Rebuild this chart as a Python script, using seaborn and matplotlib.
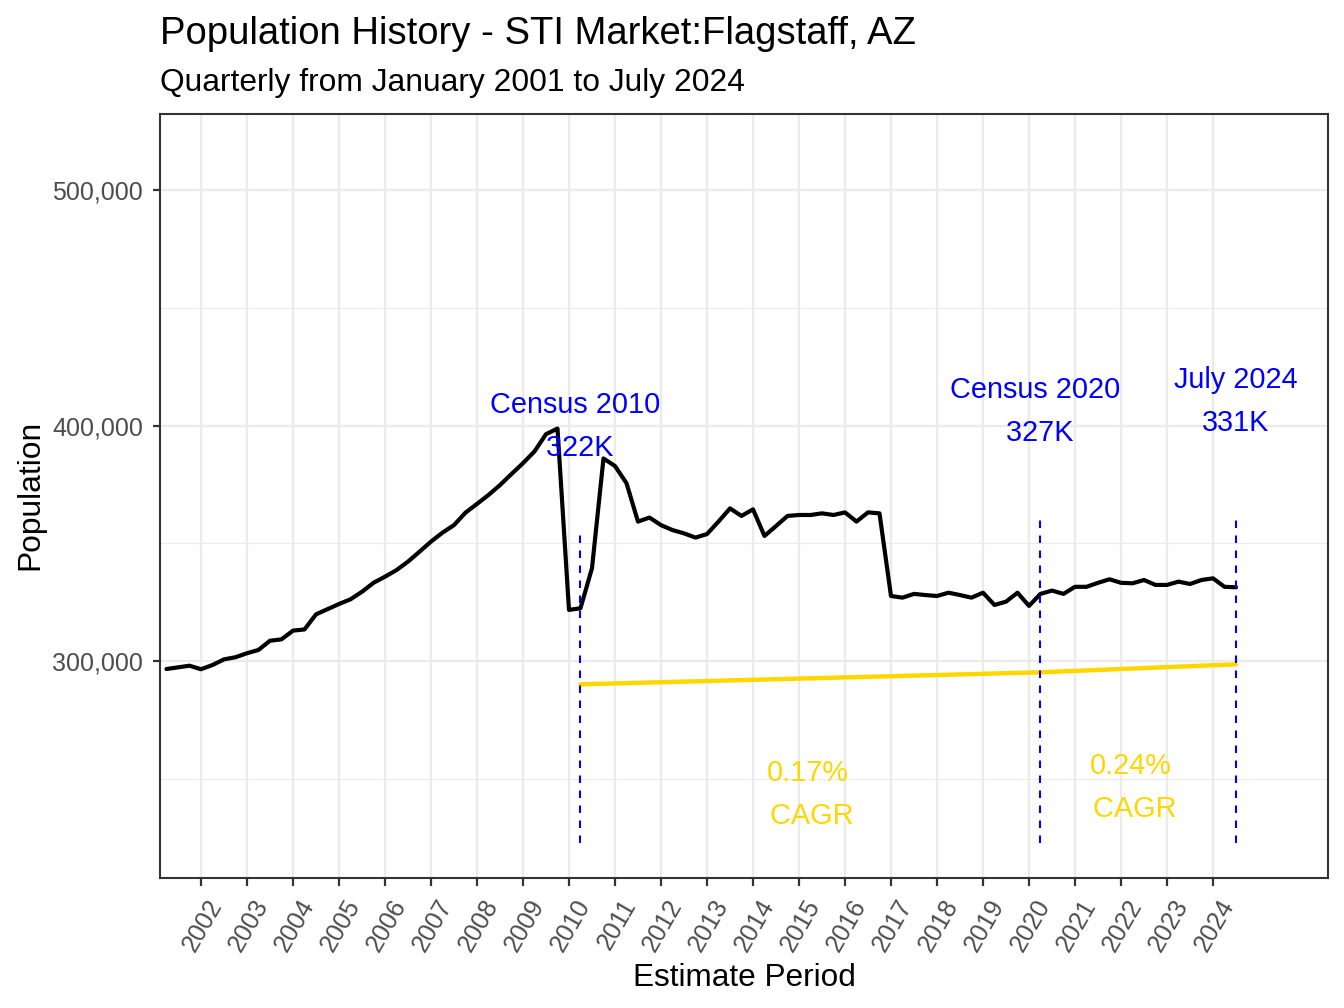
import matplotlib
matplotlib.use("Agg")
import matplotlib.pyplot as plt
import matplotlib.transforms as mtransforms
from matplotlib.ticker import FixedLocator, MultipleLocator, FuncFormatter
import seaborn as sns
import pandas as pd

# ---------------- data ----------------
# quarterly estimates (decimal year of each quarter start), April 2001 .. July 2024
population = [
    296600, 297300, 298000, 296500, 298300, 300700, 301600, 303300, 304700, 308600,
    309200, 312900, 313400, 319800, 322000, 324200, 326200, 329400, 333200, 335800,
    338600, 342200, 346400, 350700, 354500, 357700, 363000, 366700, 370500, 374700,
    379400, 384000, 389000, 396300, 398700, 321700, 322400, 339400, 386000, 382800,
    375500, 359200, 360900, 357700, 355600, 354200, 352400, 353900, 359200, 364800,
    361600, 364400, 353100, 357300, 361600, 362000, 362000, 362700, 362000, 363100,
    359200, 363100, 362700, 327600, 326900, 328500, 328000, 327600, 329000, 328000,
    326900, 329000, 323800, 325200, 329000, 323400, 328500, 329900, 328500, 331500,
    331500, 333200, 334700, 333200, 333000, 334400, 332300, 332300, 333700, 332700,
    334400, 335100, 331500, 331300,
]
first_quarter = 2001.25
period = [first_quarter + 0.25 * i for i in range(len(population))]

# CAGR trend line (yellow)
cagr_x = [2010.25, 2020.25, 2024.5]
cagr_y = [290100, 295200, 298600]

# markers (blue dashed lines + labels)
marker_x = [2010.25, 2020.25, 2024.5]
marker_top = [354900, 360500, 362000]
marker_bottom = [222800, 222800, 222800]
marker_label_x = [2010.14, 2020.14, 2024.49]
marker_label_y = [399400, 405900, 410200]
marker_labels = ["Census 2010\n 322K", "Census 2020\n 327K", "July 2024\n331K"]

cagr_label_x = [2015.2, 2022.22]
cagr_label_y = [243300, 246300]
cagr_labels = ["0.17%\n CAGR", "0.24%\n CAGR"]

year_ticks = list(range(2002, 2025))

title = "Population History - STI Market:Flagstaff, AZ"
subtitle = "Quarterly from January 2001 to July 2024"
x_title = "Estimate Period"
y_title = "Population"

# ---------------- style ----------------
sns.set_theme(style="white")
plt.rcParams["font.family"] = ["Liberation Sans", "DejaVu Sans"]

W, H = 1344, 1008
fig = plt.figure(figsize=(W / 100, H / 100), dpi=100)
ax = fig.add_axes([160 / W, 1 - 878 / H, (1328 - 160) / W, (878 - 114) / H])

df = pd.DataFrame({"period": period, "population": population})
cagr_df = pd.DataFrame({"x": cagr_x, "y": cagr_y})

ax.set_axisbelow(True)
sns.lineplot(data=df, x="period", y="population", ax=ax, color="black",
             linewidth=3.0, zorder=3)
sns.lineplot(data=cagr_df, x="x", y="y", ax=ax, color="#FFD700",
             linewidth=3.2, zorder=3)
ax.vlines(marker_x, marker_bottom, marker_top, colors="#0000FF",
          linewidth=1.5, linestyles=(0, (3.6, 3.6)), zorder=4)

for lx, ly, txt in zip(marker_label_x, marker_label_y, marker_labels):
    ax.text(lx, ly, txt, color="#0000FF", fontsize=20.8, ha="center",
            va="center", linespacing=1.68, zorder=5)
for lx, ly, txt in zip(cagr_label_x, cagr_label_y, cagr_labels):
    ax.text(lx, ly, txt, color="#FFD700", fontsize=20.8, ha="center",
            va="center", linespacing=1.68, zorder=5)

# axes limits
ax.set_xlim(2001.109, 2026.5)
ax.set_ylim(207856, 532272)

# ticks & grid
ax.xaxis.set_major_locator(FixedLocator(year_ticks))
ax.set_xticklabels([str(y) for y in year_ticks])
ax.yaxis.set_major_locator(MultipleLocator(100000))
ax.yaxis.set_minor_locator(MultipleLocator(50000))
ax.yaxis.set_major_formatter(FuncFormatter(lambda v, p: f"{int(v):,}"))

ax.grid(which="major", color="#EBEBEB", linewidth=1.7)
ax.grid(which="minor", axis="y", color="#EBEBEB", linewidth=0.85)

ax.tick_params(axis="both", which="major", length=5.4, width=1.6,
               color="#333333", labelcolor="#4D4D4D", labelsize=18,
               bottom=True, left=True)
ax.tick_params(axis="y", which="major", pad=7.0)
ax.tick_params(axis="y", which="minor", length=0)

offset = mtransforms.ScaledTranslation(16.0 / 100, -11 / 100, fig.dpi_scale_trans)
for lab in ax.get_xticklabels():
    lab.set_rotation(60)
    lab.set_rotation_mode("anchor")
    lab.set_ha("right")
    lab.set_va("center")
    lab.set_transform(lab.get_transform() + offset)

for sp in ax.spines.values():
    sp.set_color("#333333")
    sp.set_linewidth(1.5)

ax.set_xlabel("")
ax.set_ylabel("")

fig.text(160 / W, 1 - 44 / H, title, fontsize=27.5, color="black",
         ha="left", va="baseline")
fig.text(160 / W, 1 - 91 / H, subtitle, fontsize=22.9, color="black",
         ha="left", va="baseline")
fig.text(744 / W, 1 - 986 / H, x_title, fontsize=22.7, color="black",
         ha="center", va="baseline")
fig.text(30 / W, 1 - 495 / H, y_title, fontsize=22.9, color="black",
         ha="center", va="center", rotation=90)

fig.savefig("out.png", dpi=100, facecolor="white")
